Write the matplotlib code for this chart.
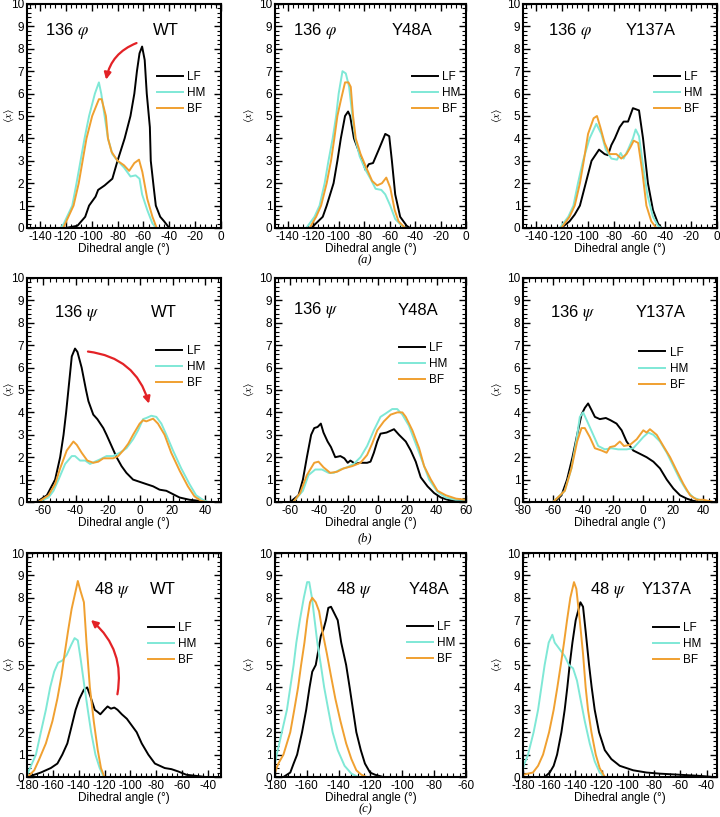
import matplotlib
matplotlib.use("Agg")
import matplotlib.pyplot as plt
from matplotlib.ticker import MultipleLocator

plt.rcParams["font.family"] = ["Liberation Sans", "DejaVu Sans"]
plt.rcParams["mathtext.fontset"] = "stix"
plt.rcParams["axes.unicode_minus"] = False

LF_COLOR = "black"
HM_COLOR = "#7fe8d6"
BF_COLOR = "#f0a030"
ARROW_COLOR = "#e32226"

# ---- row (a): residue 136 phi ----
phi_wt_lf_x = [-120, -111, -105, -102, -97, -95, -90, -88, -84, -80, -74.5, -70, -67, -65, -63, -61, -59, -57.4, -55, -54.3, -52, -50.4, -47, -44, -40]
phi_wt_lf_y = [0, 0.1, 0.5, 1.0, 1.4, 1.7, 1.9, 2.0, 2.2, 3.0, 4.0, 5.0, 6.0, 7.0, 7.8, 8.1, 7.5, 6.0, 4.5, 3.0, 1.8, 1.0, 0.5, 0.3, 0]
phi_wt_hm_x = [-124, -121.5, -115, -111.7, -108.6, -105.5, -102, -97.5, -94.4, -92.6, -90, -87.4, -84, -80, -75, -70, -66, -63, -61, -57, -53, -50]
phi_wt_hm_y = [0, 0.2, 1.0, 2.0, 3.0, 4.0, 5.0, 6.0, 6.5, 6.0, 5.0, 4.0, 3.3, 3.0, 2.7, 2.3, 2.35, 2.2, 1.5, 0.8, 0.2, 0]
phi_wt_bf_x = [-122, -114, -110, -107, -104, -99.6, -94.4, -92.3, -89, -87.4, -84.6, -80, -75, -71, -67, -63.4, -60.8, -57, -53, -49.7]
phi_wt_bf_y = [0, 1.0, 2.0, 3.0, 4.0, 5.0, 5.75, 5.75, 5.0, 4.0, 3.4, 3.0, 2.8, 2.55, 2.9, 3.05, 2.5, 1.3, 0.5, 0]

phi_y48a_lf_x = [-121.5, -112.5, -109.4, -104, -101, -98.3, -95, -92.6, -91, -88, -84, -80, -79, -76.3, -73, -68.5, -63.4, -60.3, -58.2, -55.6, -51.7, -46.6, -44]
phi_y48a_lf_y = [0, 0.5, 1.0, 2.0, 3.0, 4.0, 5.0, 5.2, 5.0, 4.0, 3.4, 2.8, 2.6, 2.85, 2.9, 3.5, 4.2, 4.1, 3.0, 1.5, 0.5, 0.1, 0]
phi_y48a_hm_x = [-125.4, -119, -115, -111, -108, -104.7, -102, -100, -97, -94.4, -91.8, -89.2, -87, -83.5, -79, -75, -71, -66.5, -63.4, -59.5, -55.6, -50.4, -47]
phi_y48a_hm_y = [0, 0.5, 1.0, 2.0, 3.0, 4.0, 5.0, 6.0, 7.0, 6.9, 6.3, 5.0, 4.0, 3.2, 2.6, 2.2, 1.75, 1.7, 1.5, 1.0, 0.4, 0.1, 0]
phi_y48a_bf_x = [-122.8, -117.7, -113.8, -109.4, -106, -103.4, -101, -98.3, -95, -92.3, -90.5, -88.7, -86.6, -82.8, -77.6, -73.7, -69.8, -66, -62.6, -59.5, -56, -53, -47.8]
phi_y48a_bf_y = [0, 0.5, 1.0, 2.0, 3.0, 4.0, 5.0, 5.7, 6.5, 6.5, 6.3, 5.0, 4.0, 3.3, 2.6, 2.1, 1.9, 2.0, 2.25, 1.8, 0.8, 0.3, 0]

phi_y137a_lf_x = [-120.4, -114, -110, -106, -101.5, -97, -91.2, -86.9, -84.3, -81.7, -79, -75.3, -72.2, -68.8, -65, -60.3, -57.2, -53.4, -49.5, -45.6, -43]
phi_y137a_lf_y = [0, 0.3, 0.6, 1.0, 2.0, 3.0, 3.5, 3.3, 3.25, 3.7, 4.0, 4.5, 4.75, 4.75, 5.35, 5.25, 4.0, 2.0, 0.8, 0.2, 0]
phi_y137a_hm_x = [-121.6, -115, -111, -107.5, -103.6, -98.5, -93.3, -89.4, -86, -81.7, -77.3, -74.5, -72.2, -68.8, -65, -62.9, -60.3, -57.7, -53.9, -49.5, -45.6, -43]
phi_y137a_hm_y = [0, 0.5, 1.0, 2.0, 3.0, 4.0, 4.65, 4.2, 3.5, 3.1, 3.05, 3.35, 3.1, 3.5, 4.0, 4.4, 4.1, 3.0, 1.5, 0.5, 0.1, 0]
phi_y137a_bf_x = [-120.4, -114, -110, -106, -103, -99.7, -95.4, -92.8, -90.2, -86.9, -83, -77.8, -74, -70, -67, -64.4, -61, -57.7, -54.6, -50.8, -46.9]
phi_y137a_bf_y = [0, 0.5, 1.0, 2.0, 3.0, 4.2, 4.9, 5.0, 4.5, 3.8, 3.3, 3.3, 3.1, 3.3, 3.6, 3.9, 3.8, 2.5, 1.0, 0.3, 0]

# ---- row (b): residue 136 psi ----
psi_wt_lf_x = [-64, -57.7, -52.6, -49.5, -47.4, -45.8, -44.4, -42.3, -40.3, -38.8, -36.2, -33.5, -32, -29, -26.5, -22.8, -20.8, -17.7, -14.6, -11.5, -8.5, -4.4, -0.3, 3.8, 8, 12, 16.2, 20.3, 24.4, 30.5, 36.7, 41]
psi_wt_lf_y = [0, 0.3, 1.0, 2.0, 3.0, 4.0, 5.0, 6.5, 6.85, 6.7, 6.0, 5.0, 4.5, 3.9, 3.7, 3.3, 3.0, 2.5, 2.0, 1.6, 1.3, 1.0, 0.9, 0.8, 0.7, 0.55, 0.5, 0.35, 0.2, 0.1, 0.05, 0]
psi_wt_hm_x = [-63, -56.7, -53.6, -50.5, -46.4, -42.3, -40.3, -37.2, -34, -31, -28, -24.9, -20.8, -16.7, -12.6, -8.5, -4.4, -1.3, 1.8, 3.8, 6.9, 10, 13.1, 16.2, 20.3, 25.4, 30.5, 34.6, 38.7, 42]
psi_wt_hm_y = [0, 0.2, 0.5, 1.0, 1.7, 2.05, 2.05, 1.85, 1.85, 1.7, 1.8, 1.9, 2.05, 2.05, 2.2, 2.4, 2.8, 3.2, 3.7, 3.75, 3.85, 3.8, 3.5, 3.0, 2.3, 1.5, 0.8, 0.3, 0.1, 0]
psi_wt_bf_x = [-63, -56.7, -52.6, -49.5, -45.4, -41.3, -39.2, -36.2, -32.7, -29, -25.9, -22.8, -16.7, -13.6, -10.5, -7.4, -4.4, -0.3, 1.8, 3.8, 8, 11, 15.1, 19.2, 24.4, 29.5, 33.6, 37.7, 41]
psi_wt_bf_y = [0, 0.3, 0.8, 1.5, 2.3, 2.7, 2.55, 2.2, 1.85, 1.75, 1.8, 1.95, 1.95, 2.05, 2.3, 2.6, 3.0, 3.5, 3.65, 3.6, 3.72, 3.5, 3.0, 2.2, 1.4, 0.7, 0.25, 0.05, 0]

psi_y48a_lf_x = [-59.7, -54, -51, -48.3, -45.4, -43.3, -41, -38.8, -37, -34.2, -31.9, -29, -25.5, -22.8, -20.5, -18.7, -15.3, -12.3, -7.3, -5, -2.7, -0.4, 1.8, 5.9, 11, 14.4, 19, 22.4, 25.8, 29.2, 33.8, 38.3, 42.9, 47.5, 53, 60]
psi_y48a_lf_y = [0, 0.3, 1.0, 2.0, 3.0, 3.3, 3.35, 3.5, 3.1, 2.7, 2.45, 2.0, 2.05, 1.95, 1.75, 1.85, 1.7, 1.75, 1.75, 1.8, 2.2, 2.7, 3.05, 3.1, 3.25, 3.0, 2.7, 2.3, 1.8, 1.1, 0.7, 0.4, 0.2, 0.1, 0.05, 0.05]
psi_y48a_hm_x = [-57.5, -51, -47.2, -42.6, -38, -33.5, -30, -25.5, -20.9, -16.4, -11.8, -7.3, -2.7, 1.8, 5.3, 9.8, 13.2, 16.7, 21.2, 25.8, 30.4, 34.9, 40.6, 46.3, 53, 60]
psi_y48a_hm_y = [0, 0.5, 1.2, 1.45, 1.45, 1.3, 1.3, 1.45, 1.55, 1.7, 2.0, 2.5, 3.2, 3.8, 3.95, 4.15, 4.15, 3.9, 3.4, 2.6, 1.8, 1.0, 0.45, 0.2, 0.1, 0.1]
psi_y48a_bf_x = [-57.5, -52.9, -48.3, -43.3, -40.4, -37, -32.4, -27.8, -23.3, -17.5, -11.8, -7.3, -3.9, -0.4, 4.1, 8.7, 13.2, 16.7, 19, 23.5, 28.1, 31.5, 36.1, 40.6, 46.3, 53.2, 60]
psi_y48a_bf_y = [0, 0.4, 1.2, 1.75, 1.8, 1.55, 1.3, 1.35, 1.5, 1.6, 1.75, 2.1, 2.6, 3.2, 3.6, 3.9, 4.0, 4.0, 3.8, 3.2, 2.4, 1.6, 1.0, 0.5, 0.3, 0.15, 0.1]

psi_y137a_lf_x = [-58.9, -54.4, -50.7, -47.1, -44, -41.1, -38.9, -36.7, -34.4, -32.2, -28.9, -24.9, -21.8, -17.8, -14.4, -11.1, -6.7, -2.2, 2.2, 6.7, 11.1, 15.6, 20, 24.4, 28.9, 33.3, 37.8]
psi_y137a_lf_y = [0, 0.3, 1.0, 2.0, 3.0, 3.9, 4.2, 4.4, 4.1, 3.8, 3.7, 3.75, 3.65, 3.5, 3.2, 2.7, 2.3, 2.15, 2.0, 1.8, 1.5, 1.0, 0.6, 0.3, 0.15, 0.05, 0]
psi_y137a_hm_x = [-60, -52.2, -47.8, -44.4, -42.2, -40, -37.3, -33.3, -30, -25.6, -21.1, -16.7, -11.1, -6.7, -3.3, 0, 3.3, 6.7, 11.1, 15.6, 20, 24.4, 28.9, 33.3, 38.9, 43]
psi_y137a_hm_y = [0, 0.5, 1.5, 2.8, 3.8, 4.0, 3.6, 3.0, 2.5, 2.35, 2.4, 2.35, 2.35, 2.4, 2.65, 2.9, 3.1, 3.0, 2.7, 2.2, 1.6, 1.0, 0.5, 0.2, 0.05, 0]
psi_y137a_bf_x = [-60, -52.2, -47.8, -44, -41.1, -38.9, -35.6, -32.2, -27.8, -24.4, -22.2, -18.9, -15.6, -12.9, -8.9, -4.4, 0, 2.2, 4.4, 8.9, 13.3, 17.8, 22.2, 26.7, 31.1, 35.6, 40, 46.7]
psi_y137a_bf_y = [0, 0.5, 1.5, 2.7, 3.3, 3.3, 2.9, 2.4, 2.3, 2.2, 2.45, 2.5, 2.7, 2.5, 2.55, 2.8, 3.2, 3.1, 3.25, 3.0, 2.5, 2.0, 1.4, 0.8, 0.3, 0.1, 0.1, 0]

# ---- row (c): residue 48 psi ----
psi48_wt_lf_x = [-179.5, -174.4, -169.3, -161.6, -156.5, -152.7, -148.8, -145.8, -142.4, -139.4, -136, -133.5, -131, -127.6, -125.3, -123.3, -120.2, -117.7, -115.1, -112.5, -110, -106.7, -102.8, -99, -95.2, -91.3, -86.2, -81.1, -73.5, -68.3, -63.2, -56.8, -49.2, -42]
psi48_wt_lf_y = [0, 0.1, 0.2, 0.4, 0.6, 1.0, 1.5, 2.2, 3.0, 3.5, 3.9, 4.0, 3.6, 3.0, 2.9, 2.8, 3.0, 3.15, 3.05, 3.1, 3.0, 2.8, 2.6, 2.3, 2.0, 1.5, 1.0, 0.6, 0.4, 0.35, 0.25, 0.1, 0.05, 0]
psi48_wt_hm_x = [-180, -176.9, -173.1, -169.3, -165.4, -162.1, -159, -156, -152.7, -149.3, -145.8, -143.2, -140.7, -138.6, -135.5, -133, -130.4, -127.1, -123.8, -120.7]
psi48_wt_hm_y = [0.1, 0.5, 1.0, 2.0, 3.0, 4.0, 4.7, 5.1, 5.2, 5.45, 5.9, 6.2, 6.1, 5.3, 4.0, 3.0, 2.0, 1.0, 0.4, 0]
psi48_wt_bf_x = [-179.5, -174.4, -170.5, -165.4, -160.3, -156.5, -153.4, -150.9, -148.3, -145.5, -142.4, -140.7, -138.6, -136, -134, -131.4, -128.4, -125.3, -122.8, -120.2]
psi48_wt_bf_y = [0, 0.3, 0.8, 1.5, 2.5, 3.5, 4.5, 5.5, 6.5, 7.5, 8.3, 8.75, 8.3, 7.8, 6.0, 4.0, 2.5, 1.2, 0.4, 0]

psi48_y48a_lf_x = [-174.7, -170.4, -168.3, -166.1, -163, -160.4, -158.3, -156.6, -154.4, -152.9, -151.2, -149.5, -148, -146.5, -144.8, -142.7, -140.6, -138.4, -135.3, -133.1, -131, -128.9, -126.1, -123.5, -120.3, -117.1, -112]
psi48_y48a_lf_y = [0, 0.2, 0.6, 1.0, 2.0, 3.0, 4.0, 4.7, 5.0, 5.6, 6.3, 6.6, 7.0, 7.55, 7.6, 7.3, 7.0, 6.0, 5.0, 4.0, 3.0, 2.0, 1.2, 0.6, 0.2, 0.1, 0]
psi48_y48a_hm_x = [-180, -178.9, -175.7, -172.5, -170.4, -168.3, -166.6, -164.4, -161.9, -159.8, -158.5, -156.8, -155.1, -153.4, -151.2, -149.1, -146.5, -143.8, -140.6, -136.3, -132, -127.7]
psi48_y48a_hm_y = [0.6, 1.0, 2.0, 3.0, 4.0, 5.0, 6.0, 7.0, 8.0, 8.7, 8.7, 8.0, 7.0, 6.0, 5.0, 4.0, 3.0, 2.0, 1.2, 0.5, 0.15, 0]
psi48_y48a_bf_x = [-180, -177.9, -174.7, -170.4, -167.9, -165.5, -163.6, -161.5, -159.8, -158, -156.6, -154.4, -152.3, -150.2, -147.4, -144.8, -142.1, -138.9, -135.3, -132, -128.9, -125.7, -122.5]
psi48_y48a_bf_y = [0.2, 0.6, 1.0, 2.0, 3.0, 4.0, 5.0, 6.0, 7.0, 7.8, 8.0, 7.8, 7.4, 6.5, 5.5, 4.5, 3.5, 2.5, 1.5, 0.8, 0.3, 0.1, 0]

psi48_y137a_lf_x = [-163.5, -159.6, -156.6, -154, -150.7, -148.2, -146.2, -144.4, -142.3, -139.8, -136.2, -134.2, -132.2, -129.6, -127.6, -125.3, -122, -117.6, -112.6, -106.2, -96, -85.8, -75.7, -60.4, -45.1, -35]
psi48_y137a_lf_y = [0, 0.2, 0.5, 1.0, 2.0, 3.0, 4.0, 5.0, 6.0, 7.0, 7.8, 7.6, 6.5, 5.0, 4.0, 3.0, 2.0, 1.2, 0.8, 0.5, 0.3, 0.2, 0.15, 0.1, 0.05, 0]
psi48_y137a_hm_x = [-180, -179.5, -176.2, -171.9, -168.5, -166, -163.5, -160.4, -157.6, -155.8, -152, -148.2, -144.9, -141.8, -138.8, -136.2, -132.9, -129.1, -125.3, -121.5, -117.6]
psi48_y137a_hm_y = [0.3, 0.5, 1.0, 2.0, 3.0, 4.0, 5.0, 6.0, 6.35, 6.0, 5.7, 5.4, 5.0, 4.85, 4.3, 3.5, 2.5, 1.5, 0.7, 0.2, 0]
psi48_y137a_bf_x = [-180, -172.4, -168.5, -164.7, -160.1, -156.6, -153.8, -151.2, -148.7, -146.4, -143.9, -141.1, -139.3, -136.7, -134.2, -132.2, -130.4, -127.8, -124.5, -121.5, -117.6]
psi48_y137a_bf_y = [0.1, 0.2, 0.5, 1.0, 2.0, 3.0, 4.0, 5.0, 6.0, 7.0, 8.0, 8.7, 8.4, 7.0, 5.5, 4.0, 3.0, 2.0, 1.0, 0.4, 0]

series_labels = ["LF", "HM", "BF"]
panel_titles = [
    ("136 $\\varphi$", "WT"), ("136 $\\varphi$", "Y48A"), ("136 $\\varphi$", "Y137A"),
    ("136 $\\psi$", "WT"), ("136 $\\psi$", "Y48A"), ("136 $\\psi$", "Y137A"),
    ("48 $\\psi$", "WT"), ("48 $\\psi$", "Y48A"), ("48 $\\psi$", "Y137A"),
]
row_labels = ["(a)", "(b)", "(c)"]

panel_data = [
    [(phi_wt_lf_x, phi_wt_lf_y), (phi_wt_hm_x, phi_wt_hm_y), (phi_wt_bf_x, phi_wt_bf_y)],
    [(phi_y48a_lf_x, phi_y48a_lf_y), (phi_y48a_hm_x, phi_y48a_hm_y), (phi_y48a_bf_x, phi_y48a_bf_y)],
    [(phi_y137a_lf_x, phi_y137a_lf_y), (phi_y137a_hm_x, phi_y137a_hm_y), (phi_y137a_bf_x, phi_y137a_bf_y)],
    [(psi_wt_lf_x, psi_wt_lf_y), (psi_wt_hm_x, psi_wt_hm_y), (psi_wt_bf_x, psi_wt_bf_y)],
    [(psi_y48a_lf_x, psi_y48a_lf_y), (psi_y48a_hm_x, psi_y48a_hm_y), (psi_y48a_bf_x, psi_y48a_bf_y)],
    [(psi_y137a_lf_x, psi_y137a_lf_y), (psi_y137a_hm_x, psi_y137a_hm_y), (psi_y137a_bf_x, psi_y137a_bf_y)],
    [(psi48_wt_lf_x, psi48_wt_lf_y), (psi48_wt_hm_x, psi48_wt_hm_y), (psi48_wt_bf_x, psi48_wt_bf_y)],
    [(psi48_y48a_lf_x, psi48_y48a_lf_y), (psi48_y48a_hm_x, psi48_y48a_hm_y), (psi48_y48a_bf_x, psi48_y48a_bf_y)],
    [(psi48_y137a_lf_x, psi48_y137a_lf_y), (psi48_y137a_hm_x, psi48_y137a_hm_y), (psi48_y137a_bf_x, psi48_y137a_bf_y)],
]

x_limits = [(-150, 0), (-150, 0), (-150, 0),
            (-70, 50), (-70, 60), (-80, 49),
            (-180, -30), (-180, -60), (-180, -32)]

# layout, in axes fraction: (residue text x, mutant text x, text y, legend x, legend y)
label_pos = [
    (0.095, 0.65, 0.88, 0.67, 0.70), (0.095, 0.61, 0.88, 0.716, 0.70), (0.13, 0.53, 0.88, 0.674, 0.70),
    (0.137, 0.64, 0.845, 0.667, 0.70), (0.096, 0.64, 0.855, 0.65, 0.715), (0.137, 0.58, 0.845, 0.60, 0.694),
    (0.344, 0.634, 0.837, 0.625, 0.692), (0.32, 0.70, 0.837, 0.693, 0.696), (0.344, 0.61, 0.837, 0.67, 0.693),
]
ylabel_x = [-0.055, -0.10, -0.10]

# red arrows in WT panels: (start, end, curvature)
arrows = {
    0: ((-63.3, 8.3), (-89.2, 6.5), 0.3),
    3: ((-34.0, 6.73), (5.9, 4.27), -0.35),
    6: ((-110.5, 3.57), (-132.2, 7.09), 0.3),
}

fig = plt.figure(figsize=(7.2, 8.17), dpi=100)
col_left = [27 / 720, 275 / 720, 523 / 720]
col_width = [194 / 720, 191 / 720, 194 / 720]
row_bottom = [1 - 228 / 817, 1 - 502 / 817, 1 - 777 / 817]
row_height = 224 / 817

colors = [LF_COLOR, HM_COLOR, BF_COLOR]

for i in range(9):
    r, c = divmod(i, 3)
    ax = fig.add_axes([col_left[c], row_bottom[r], col_width[c], row_height])
    for (xs, ys), col, lab in zip(panel_data[i], colors, series_labels):
        ax.plot(xs, ys, color=col, lw=1.4, label=lab)
    ax.set_xlim(*x_limits[i])
    ax.set_ylim(0, 10)
    ax.xaxis.set_major_locator(MultipleLocator(20))
    ax.xaxis.set_minor_locator(MultipleLocator(4))
    ax.yaxis.set_major_locator(MultipleLocator(1))
    ax.yaxis.set_minor_locator(MultipleLocator(0.2))
    ax.tick_params(which="both", direction="in", top=True, right=True, labelsize=8.5, pad=2)
    ax.tick_params(which="major", length=5, width=1)
    ax.tick_params(which="minor", length=3, width=0.8)
    for sp in ax.spines.values():
        sp.set_linewidth(1.5)
    ax.set_xlabel("Dihedral angle (°)", fontsize=8.5, labelpad=0.5)
    ax.set_ylabel(r"$\langle x \rangle$", fontsize=8)
    ax.yaxis.set_label_coords(ylabel_x[c], 0.5)

    tx1, tx2, ty, lx, ly = label_pos[i]
    res_txt, mut_txt = panel_titles[i]
    ax.text(tx1, ty, res_txt, transform=ax.transAxes, fontsize=12, va="center", ha="left")
    ax.text(tx2, ty, mut_txt, transform=ax.transAxes, fontsize=12, va="center", ha="left")
    ax.legend(loc="upper left", bbox_to_anchor=(lx, ly), frameon=False, fontsize=8.5,
              handlelength=2.2, handletextpad=0.35, labelspacing=0.35,
              borderpad=0, borderaxespad=0)

    if i in arrows:
        start, end, rad = arrows[i]
        ax.annotate("", xy=end, xytext=start,
                    arrowprops=dict(arrowstyle="-|>", color=ARROW_COLOR, lw=1.6,
                                    mutation_scale=10,
                                    connectionstyle=f"arc3,rad={rad}"))

for r, lab in enumerate(row_labels):
    y = [260, 538, 809][r]
    fig.text(365 / 720, 1 - y / 817, lab, ha="center", va="center", fontsize=9,
             family="Liberation Serif", style="italic")

fig.savefig("out.png", dpi=100)
